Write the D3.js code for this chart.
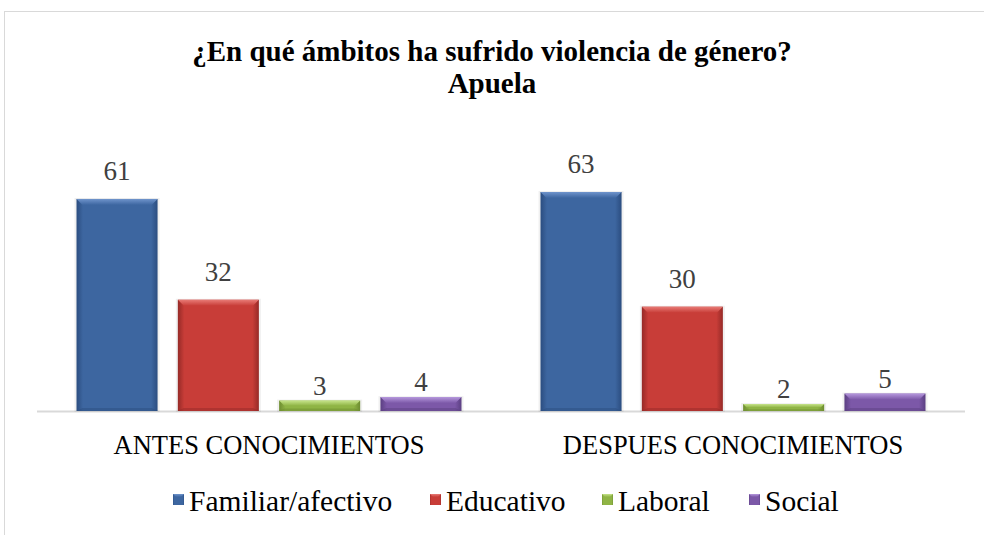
<!DOCTYPE html>
<html><head><meta charset="utf-8">
<script src="https://cdn.jsdelivr.net/npm/d3@7"></script>
<style>html,body{margin:0;padding:0;background:#fff;}svg{display:block;}</style>
</head><body>
<script>
const categories = ["ANTES CONOCIMIENTOS", "DESPUES CONOCIMIENTOS"];
const seriesNames = ["Familiar/afectivo", "Educativo", "Laboral", "Social"];
const familiar = [61, 63];
const educativo = [32, 30];
const laboral = [3, 2];
const social = [4, 5];
const titleLines = ["¿En qué ámbitos ha sufrido violencia de género?", "Apuela"];

const seriesValues = [familiar, educativo, laboral, social];
const colors = {
  "Familiar/afectivo": {base:"#3d66a0", light:"#6f94cc", dark:"#2b4d80"},
  "Educativo": {base:"#c83d38", light:"#e87b76", dark:"#962a27"},
  "Laboral": {base:"#8fb445", light:"#c6e38a", dark:"#6d8c30"},
  "Social": {base:"#7c58a8", light:"#b597dc", dark:"#5b3f82"}
};
const FONT = "Liberation Serif, Times New Roman, serif";

const W = 984, H = 535;
const svg = d3.select("body").append("svg").attr("width", W).attr("height", H);
const defs = svg.append("defs");

seriesNames.forEach((s, i) => {
  const c = colors[s];
  const g = defs.append("linearGradient").attr("id", "g" + i).attr("x1", 0).attr("x2", 1).attr("y1", 0).attr("y2", 0);
  g.append("stop").attr("offset", "0%").attr("stop-color", c.dark);
  g.append("stop").attr("offset", "8%").attr("stop-color", c.base);
  g.append("stop").attr("offset", "92%").attr("stop-color", c.base);
  g.append("stop").attr("offset", "100%").attr("stop-color", c.dark);
  const t = defs.append("linearGradient").attr("id", "t" + i).attr("x1", 0).attr("x2", 0).attr("y1", 0).attr("y2", 1);
  t.append("stop").attr("offset", "0%").attr("stop-color", c.light);
  t.append("stop").attr("offset", "100%").attr("stop-color", c.base);
});

// frame
svg.append("rect").attr("x", 4.5).attr("y", 11.5).attr("width", 990).attr("height", 540)
  .attr("fill", "none").attr("stroke", "#d9d9d9").attr("stroke-width", 1);

// title
const title = svg.append("text").attr("text-anchor", "middle")
  .style("font-family", FONT).attr("font-weight", "bold")
  .attr("font-size", 29).attr("fill", "#000");
title.selectAll("tspan").data(titleLines).join("tspan")
  .attr("x", 492).attr("y", (d, i) => 61 + i * 32).text(d => d);

const baseY = 411;
const x0 = d3.scaleBand().domain(categories).range([37, 965]).padding(0);
const x1 = d3.scaleBand().domain(seriesNames).range([0, x0.bandwidth()]).paddingInner(0.2).paddingOuter(0.39);
const y = d3.scaleLinear().domain([0, 63]).range([baseY, baseY - 219]);

const rows = [];
categories.forEach((cat, ci) => {
  seriesNames.forEach((s, si) => rows.push({cat, s, si, v: seriesValues[si][ci]}));
});

// axis line
svg.append("line").attr("x1", x0.range()[0]).attr("x2", x0.range()[1])
  .attr("y1", baseY + 0.5).attr("y2", baseY + 0.5).attr("stroke", "#d9d9d9").attr("stroke-width", 2);

const bars = svg.append("g").selectAll("g").data(rows).join("g");
bars.each(function(d) {
  const g = d3.select(this);
  const bx = x0(d.cat) + x1(d.s), bw = x1.bandwidth();
  const top = y(d.v), h = baseY - top;
  g.append("rect").attr("x", bx - 2).attr("y", top - 1).attr("width", bw + 4).attr("height", h + 2)
    .attr("fill", "#000").attr("opacity", 0.06);
  g.append("rect").attr("x", bx).attr("y", top).attr("width", bw).attr("height", h)
    .attr("fill", "url(#g" + d.si + ")");
  const bev = Math.min(6, h / 2);
  g.append("path")
    .attr("d", `M${bx},${top}L${bx + bw},${top}L${bx + bw - bev},${top + bev}L${bx + bev},${top + bev}Z`)
    .attr("fill", "url(#t" + d.si + ")");
  g.append("path")
    .attr("d", `M${bx},${top + h}L${bx + bw},${top + h}L${bx + bw - bev},${top + h - bev * 0.5}L${bx + bev},${top + h - bev * 0.5}Z`)
    .attr("fill", colors[d.s].dark).attr("opacity", 0.5);
});

// value labels
svg.append("g").selectAll("text").data(rows).join("text")
  .attr("x", d => x0(d.cat) + x1(d.s) + x1.bandwidth() / 2)
  .attr("y", d => { const top = y(d.v); return top - ((baseY - top) > 50 ? 19 : 6); })
  .attr("text-anchor", "middle")
  .style("font-family", FONT)
  .attr("font-size", 27).attr("fill", "#404040").text(d => d.v);

// category labels
svg.append("g").selectAll("text").data(categories).join("text")
  .attr("x", d => x0(d) + x0.bandwidth() / 2).attr("y", 454)
  .attr("text-anchor", "middle")
  .style("font-family", FONT)
  .attr("font-size", 26.5).attr("fill", "#000").text(d => d);

// legend
const legendX = [173, 430, 602, 749];
const lg = svg.append("g").selectAll("g").data(seriesNames).join("g")
  .attr("transform", (d, i) => `translate(${legendX[i]},0)`);
lg.append("rect").attr("x", 0).attr("y", 494).attr("width", 11).attr("height", 11)
  .attr("fill", (d, i) => "url(#g" + i + ")");
lg.append("path").attr("d", "M0,494L11,494L8,497L3,497Z").attr("fill", (d, i) => "url(#t" + i + ")");
lg.append("text").attr("x", 16).attr("y", 511)
  .style("font-family", FONT)
  .attr("font-size", 29.5).attr("fill", "#000").text(d => d);
</script>
</body></html>
